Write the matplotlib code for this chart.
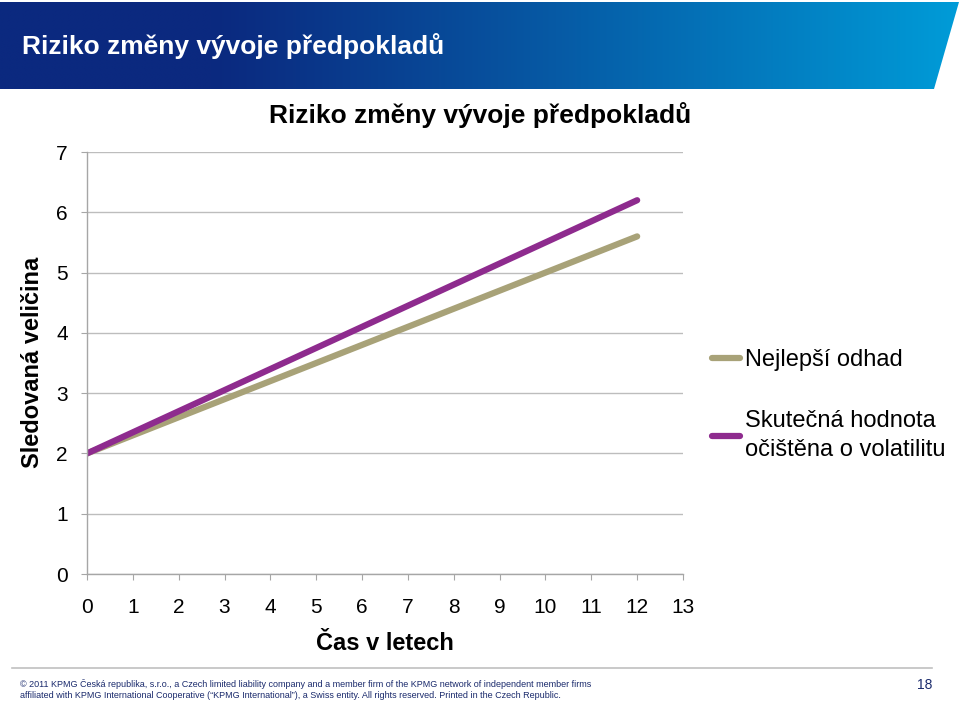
import matplotlib
matplotlib.use("Agg")
import matplotlib.pyplot as plt
import numpy as np
from matplotlib.patches import Polygon

plt.rcParams['font.family'] = ['Liberation Sans', 'DejaVu Sans']

# ---- data ----
years = [0, 1, 2, 3, 4, 5, 6, 7, 8, 9, 10, 11, 12]
best_estimate = [2.0, 2.3, 2.6, 2.9, 3.2, 3.5, 3.8, 4.1, 4.4, 4.7, 5.0, 5.3, 5.6]
actual_value = [2.0, 2.35, 2.7, 3.05, 3.4, 3.75, 4.1, 4.45, 4.8, 5.15, 5.5, 5.85, 6.2]
series_names = ["Nejlepší odhad", "Skutečná hodnota\nočištěna o volatilitu"]
x_ticks = list(range(0, 14))
y_ticks = list(range(0, 8))

slide_title = "Riziko změny vývoje předpokladů"
chart_title = "Riziko změny vývoje předpokladů"
x_label = "Čas v letech"
y_label = "Sledovaná veličina"
footer_lines = ["© 2011 KPMG Česká republika, s.r.o., a Czech limited liability company and a member firm of the KPMG network of independent member firms",
                "affiliated with KPMG International Cooperative (\u201cKPMG International\u201d), a Swiss entity. All rights reserved. Printed in the Czech Republic."]
page_number = "18"

W, H = 960, 705
fig = plt.figure(figsize=(W / 100, H / 100), dpi=100)

# ---- slide background layer (pixel coordinates) ----
bg = fig.add_axes([0, 0, 1, 1], zorder=0)
bg.set_xlim(0, W)
bg.set_ylim(H, 0)
bg.axis('off')

c0 = np.array([0x0b, 0x29, 0x7f]) / 255
c1 = np.array([0x00, 0x9c, 0xd8]) / 255
t = np.linspace(0, 1, 512)
tt = np.clip((t - 0.22) / 0.78, 0, 1) ** 1.1
grad = (c0[None, :] * (1 - tt[:, None]) + c1[None, :] * tt[:, None])[None, :, :]
im = bg.imshow(grad, extent=(0, 960, 89, 2), aspect='auto', interpolation='bilinear')
poly = Polygon([(0, 2), (959, 2), (934, 89), (0, 89)], closed=True, transform=bg.transData,
               facecolor='none', edgecolor='none')
bg.add_patch(poly)
im.set_clip_path(poly)
bg.set_xlim(0, W)
bg.set_ylim(H, 0)

bg.text(22, 46, slide_title, color='white', fontsize=19, fontweight='bold',
        va='center', ha='left')

# footer
bg.plot([12, 932], [668, 668], color='#c0c0c0', lw=1.2)
for i, line in enumerate(footer_lines):
    bg.text(20, 684 + i * 11.5, line, fontsize=6.5, color='#1a2a6c',
            va='center', ha='left')
bg.text(932, 685, page_number, fontsize=10, color='#1a2a6c', va='center', ha='right')

# chart title
bg.text(480, 115, chart_title, fontsize=19, fontweight='bold', ha='center', va='center')

# ---- chart ----
ax = fig.add_axes([87 / W, 1 - 574 / H, (683 - 87) / W, (574 - 152) / H], zorder=1)
ax.patch.set_alpha(0)
colors = ['#a8a278', '#8e2b8e']
ax.plot(years, best_estimate, color=colors[0], lw=4.5, solid_capstyle='round', label=series_names[0])
ax.plot(years, actual_value, color=colors[1], lw=4.5, solid_capstyle='round', label=series_names[1])

ax.set_xlim(0, 13)
ax.set_ylim(0, 7)
ax.set_xticks(x_ticks)
ax.set_yticks(y_ticks)
ax.yaxis.grid(True, color='#bdbdbd', lw=1)
ax.set_axisbelow(True)
for s in ['top', 'right']:
    ax.spines[s].set_visible(False)
for s in ['left', 'bottom']:
    ax.spines[s].set_color('#a6a6a6')
    ax.spines[s].set_linewidth(1)
ax.tick_params(axis='x', direction='out', length=4.3, color='#a6a6a6', labelsize=15, pad=13)
ax.tick_params(axis='y', direction='out', length=4.3, color='#a6a6a6', labelsize=15, pad=9.4)

ax.set_xlabel(x_label, fontsize=17, fontweight='bold')
ax.xaxis.set_label_coords(0.5, -(643 - 574) / (574 - 152), transform=ax.transAxes)
ax.xaxis.label.set_va('center')
ax.set_ylabel(y_label, fontsize=17, fontweight='bold')
ax.yaxis.set_label_coords(-(87 - 33) / (683 - 87), (574 - 362) / (574 - 152), transform=ax.transAxes)
ax.yaxis.label.set_va('center')

leg = fig.legend(loc='upper left', bbox_to_anchor=(712 / W, 1 - 349 / H), frameon=False,
                 fontsize=17, handlelength=1.2, handletextpad=0.2, labelspacing=1.65,
                 borderpad=0, borderaxespad=0)
for txt in leg.get_texts():
    txt.set_linespacing(1.4)

fig.savefig('out.png', dpi=100)
